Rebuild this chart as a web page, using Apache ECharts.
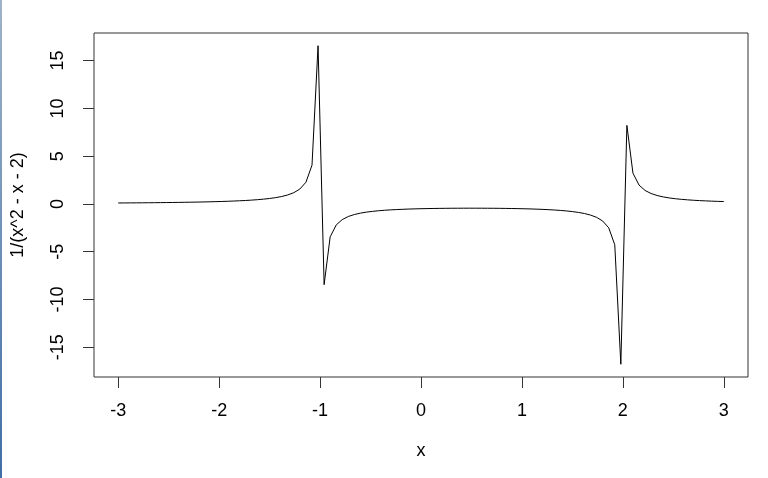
<!DOCTYPE html>
<html>
<head>
<meta charset="utf-8">
<script src="https://cdn.jsdelivr.net/npm/echarts@6/dist/echarts.min.js"></script>
<style>
html,body{margin:0;padding:0;background:#fff;}
#chart{width:768px;height:478px;}
</style>
</head>
<body>
<div id="chart"></div>
<script>
const xValues = [
-3,-2.94,-2.88,-2.82,-2.76,-2.7,-2.64,-2.58,-2.52,-2.46,
-2.4,-2.34,-2.28,-2.22,-2.16,-2.1,-2.04,-1.98,-1.92,-1.86,
-1.8,-1.74,-1.68,-1.62,-1.56,-1.5,-1.44,-1.38,-1.32,-1.26,
-1.2,-1.14,-1.08,-1.02,-0.96,-0.9,-0.84,-0.78,-0.72,-0.66,
-0.6,-0.54,-0.48,-0.42,-0.36,-0.3,-0.24,-0.18,-0.12,-0.06,
0,0.06,0.12,0.18,0.24,0.3,0.36,0.42,0.48,0.54,
0.6,0.66,0.72,0.78,0.84,0.9,0.96,1.02,1.08,1.14,
1.2,1.26,1.32,1.38,1.44,1.5,1.56,1.62,1.68,1.74,
1.8,1.86,1.92,1.98,2.04,2.1,2.16,2.22,2.28,2.34,
2.4,2.46,2.52,2.58,2.64,2.7,2.76,2.82,2.88,2.94,
3
];
const yValues = [
0.1,0.10434,0.109,0.11399,0.11937,0.12516,0.13141,0.13819,0.14555,0.15357,
0.16234,0.17195,0.18253,0.19424,0.20723,0.22173,0.238,0.25638,0.27728,0.30124,
0.32895,0.36132,0.39962,0.44555,0.50161,0.57143,0.66068,0.77857,0.94127,1.1798,
1.5625,2.2748,4.05844,16.5563,-8.44595,-3.44828,-2.2007,-1.63506,-1.31303,-1.1057,
-0.96154,-0.85587,-0.77543,-0.71245,-0.66208,-0.62112,-0.58741,-0.55941,-0.53602,-0.51642,
-0.5,-0.48628,-0.47493,-0.46564,-0.45821,-0.45249,-0.44835,-0.44571,-0.44452,-0.44476,
-0.44643,-0.44956,-0.45422,-0.46049,-0.46852,-0.47847,-0.49058,-0.50515,-0.52258,-0.54336,
-0.56818,-0.59794,-0.63387,-0.67769,-0.73185,-0.8,-0.88778,-1.00442,-1.16604,-1.40371,
-1.78571,-2.4975,-4.28082,-16.7785,8.22368,3.22581,1.97785,1.41163,1.08885,0.88059,
0.73529,0.6283,0.54633,0.4816,0.42926,0.3861,0.34994,0.31924,0.29288,0.27001,
0.25
];
const xTicks = [-3,-2,-1,0,1,2,3];
const yTicks = [-15,-10,-5,0,5,10,15];
const xTitle = 'x';
const yTitle = '1/(x^2 - x - 2)';

const data = xValues.map((x, i) => [x, yValues[i]]);
const font = 'Liberation Sans, Arial, Helvetica, sans-serif';

const chart = echarts.init(document.getElementById('chart'), null, {renderer: 'canvas'});
chart.setOption({
  animation: false,
  backgroundColor: '#ffffff',
  grid: {
    left: 94, right: 20, top: 33, bottom: 101,
    show: true, borderColor: '#333', borderWidth: 1, backgroundColor: 'transparent'
  },
  xAxis: {
    type: 'value', min: -3.24, max: 3.24,
    splitLine: {show: false},
    axisLine: {show: false, onZero: false},
    axisTick: {show: true, customValues: xTicks, length: 11, lineStyle: {color: '#333', width: 1}},
    axisLabel: {customValues: xTicks, margin: 25, color: '#000', fontSize: 18, fontFamily: font,
      formatter: v => String(v)},
    name: xTitle, nameLocation: 'middle', nameGap: 65,
    nameTextStyle: {color: '#000', fontSize: 18, fontFamily: font}
  },
  yAxis: {
    type: 'value', min: -18.112, max: 17.890,
    splitLine: {show: false},
    axisLine: {show: false, onZero: false},
    axisTick: {show: true, customValues: yTicks, length: 11, lineStyle: {color: '#333', width: 1}},
    axisLabel: {customValues: yTicks, rotate: 90, margin: 27, color: '#000', fontSize: 18, fontFamily: font,
      formatter: v => String(v)},
    name: yTitle, nameLocation: 'middle', nameGap: 67, nameRotate: 90,
    nameTextStyle: {color: '#000', fontSize: 18, fontFamily: font}
  },
  graphic: [{
    type: 'rect', left: 0, top: 0, z: 100,
    shape: {x: 0, y: 0, width: 2, height: 478},
    style: {fill: new echarts.graphic.LinearGradient(0, 0, 0, 1, [
      {offset: 0, color: '#9fb3c8'}, {offset: 1, color: '#3f6fa6'}
    ])}
  }],
  series: [{
    type: 'line', data: data, showSymbol: false, symbol: 'none',
    lineStyle: {color: '#000', width: 1}, itemStyle: {color: '#000'},
    clip: true
  }]
});
</script>
</body>
</html>
